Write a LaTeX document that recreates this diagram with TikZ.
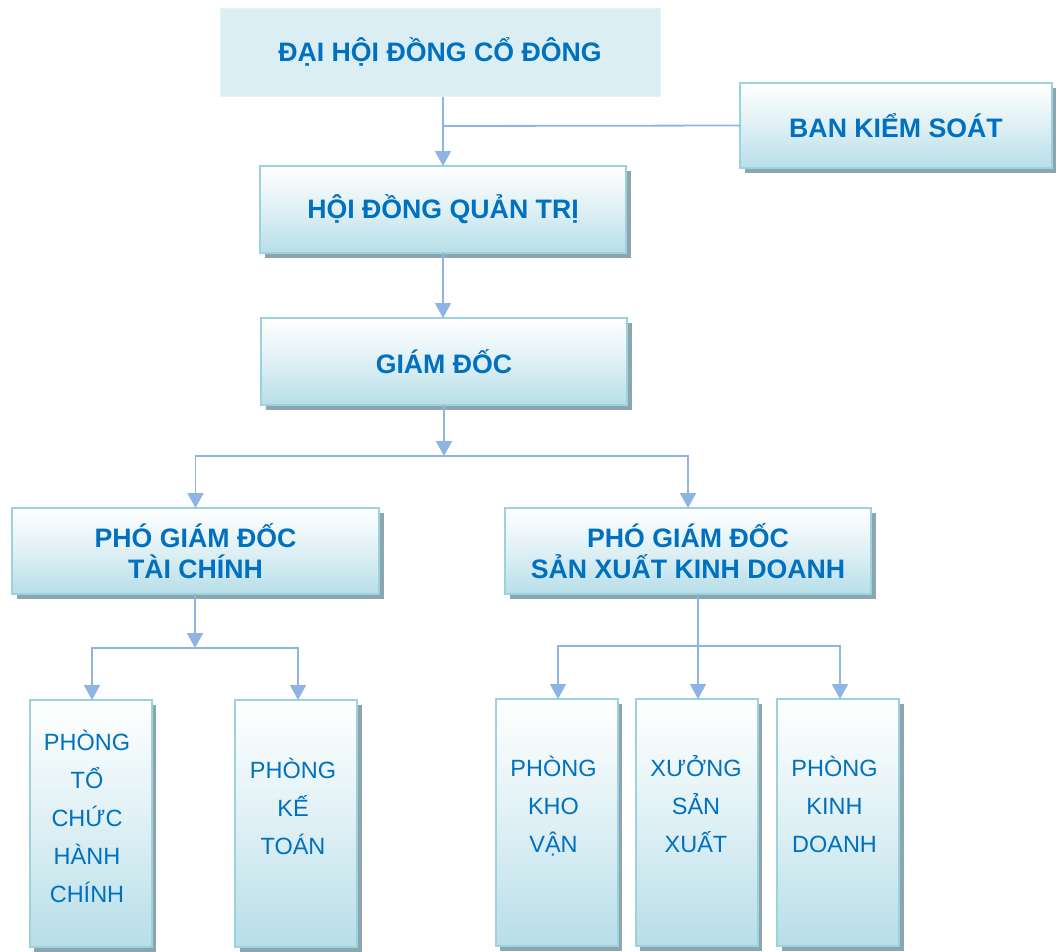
\documentclass[tikz,border=0pt]{standalone}
\usepackage{fontspec}
\setmainfont{Liberation Sans}
\usetikzlibrary{arrows.meta,shadows}
\definecolor{txtblue}{HTML}{0070C0}
\definecolor{connblue}{HTML}{8EB4E3}
\definecolor{boxborder}{HTML}{9BD2DE}
\definecolor{boxbottom}{HTML}{B7DEE8}
\definecolor{shadowgray}{HTML}{8CA5AF}
\definecolor{topfill}{HTML}{DAEEF3}
\definecolor{topborder}{HTML}{E6F3F7}
\tikzset{
  x=1pt, y=-1pt,
  boxstyle/.style={draw=boxborder, line width=2pt, top color=white, bottom color=boxbottom,
    middle color=boxbottom!45!white,
    drop shadow={shadow xshift=4.5pt, shadow yshift=-4.5pt, fill=shadowgray, opacity=1},
    inner sep=0pt, outer sep=0pt, text=txtblue, align=center},
  headfont/.style={font=\bfseries\fontsize{26.7}{30.5}\selectfont},
  headbox/.style={boxstyle, headfont},
  smallbox/.style={boxstyle, minimum width=122pt, minimum height=247pt},
  smalltext/.style={text=txtblue, align=center, inner sep=0pt, font=\fontsize{23.5}{38}\selectfont},
  conn/.style={draw=connblue, line width=1.8pt},
  arr/.style={conn, -{Triangle[width=16pt,length=15pt]}}
}
\begin{document}
\begin{tikzpicture}
\useasboundingbox (0,0) rectangle (1056,951);
% boxes
\node[draw=topborder, line width=1pt, fill=topfill, minimum width=440pt, minimum height=88pt,
  inner sep=0pt, text=txtblue, headfont] (dhcd) at (440,52) {ĐẠI HỘI ĐỒNG CỔ ĐÔNG};
\node[headbox, minimum width=312pt, minimum height=85pt] (bks) at (896,125.5) {BAN KIỂM SOÁT};
\node[headbox, minimum width=366pt, minimum height=87pt] (hdqt) at (443,209.5) {HỘI ĐỒNG QUẢN TRỊ};
\node[headbox, minimum width=366pt, minimum height=87pt] (gd) at (444,361.5) {GIÁM ĐỐC};
\node[headbox, minimum width=367pt, minimum height=86pt] (pgdtc) at (195.5,551) {PHÓ GIÁM ĐỐC\\TÀI CHÍNH};
\node[headbox, minimum width=366pt, minimum height=86pt] (pgdsx) at (688,551) {PHÓ GIÁM ĐỐC\\SẢN XUẤT KINH DOANH};
\node[smallbox] (p1) at (90.5,823.5) {};
\node[smallbox] (p2) at (296,823.5) {};
\node[smallbox] (p3) at (556.5,822.5) {};
\node[smallbox] (p4) at (696.5,822.5) {};
\node[smallbox] (p5) at (838,822.5) {};
% texts of small boxes
\node[smalltext] (t1) at (87,816) {PHÒNG\\TỔ\\CHỨC\\HÀNH\\CHÍNH};
\node[smalltext] (t2) at (293,806) {PHÒNG\\KẾ\\TOÁN};
\node[smalltext] (t3) at (553.5,806) {PHÒNG\\KHO\\VẬN};
\node[smalltext] (t4) at (696,804) {XƯỞNG\\SẢN\\XUẤT};
\node[smalltext] (t5) at (834.5,804) {PHÒNG\\KINH\\DOANH};
% junctions
\coordinate (j0) at (443,126);
\coordinate (j1) at (444,456);
\coordinate (j2) at (195,648);
\coordinate (j3) at (698,646);
% connectors
\draw[arr] (hdqt.north |- dhcd.south) -- (hdqt.north);
\draw[conn] (j0) -- (bks.west);
\draw[arr] (hdqt.south) -- (hdqt.south |- gd.north);
\draw[arr] (gd.south) -- (j1);
\draw[arr] (j1) -| (pgdtc.north);
\draw[arr] (j1) -| (pgdsx.north);
\draw[arr] (j2 |- pgdtc.south) -- (j2);
\draw[arr] (j2) -| ([xshift=1.5pt]p1.north);
\draw[arr] (j2) -| ([xshift=2pt]p2.north);
\draw[arr] (j3 |- pgdsx.south) -- (j3 |- p4.north);
\draw[arr] (j3) -| ([xshift=1.5pt]p3.north);
\draw[arr] (j3) -| ([xshift=2pt]p5.north);
\end{tikzpicture}
\end{document}
